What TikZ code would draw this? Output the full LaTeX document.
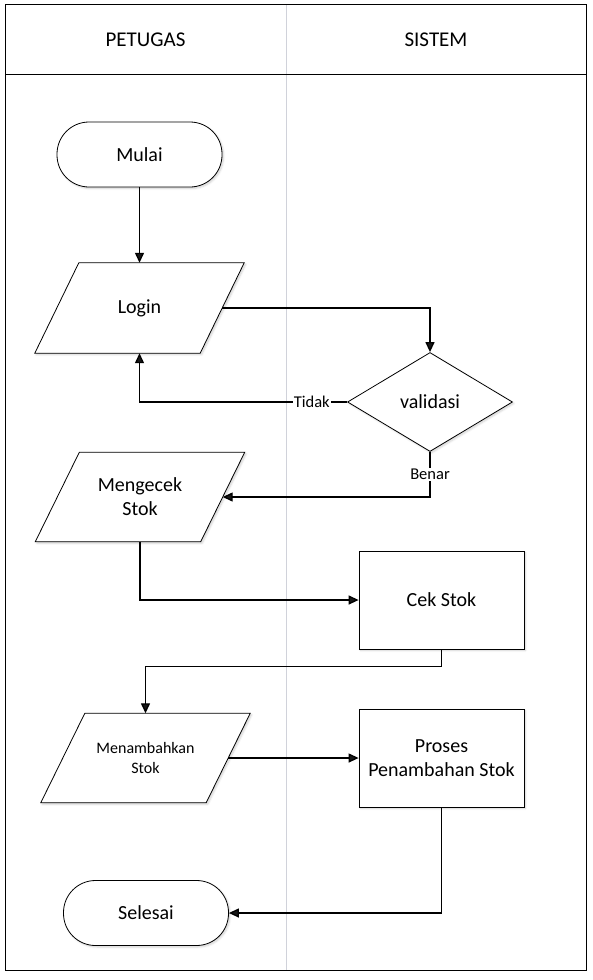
\documentclass[tikz,border=0pt]{standalone}
\usepackage{fontspec}
\setmainfont{Carlito}
\usepackage{xcolor}
\usepackage{tikz}
\usetikzlibrary{
    positioning,
    arrows.meta,
    calc,
    shapes.geometric,
    shadows.blur
}

\definecolor{garislajur}{RGB}{208,210,218}

\tikzset{
    bayang/.style={blur shadow={shadow xshift=1.5pt, shadow yshift=-1.5pt, shadow blur steps=5, shadow opacity=18}},
    panah/.style={line width=1.3pt, -{Triangle[length=10pt,width=9pt]}},
    terminal/.style={draw, line width=0.8pt, fill=white, bayang, rounded corners=32pt, minimum width=165pt, minimum height=65pt, font=\fontsize{20}{23}\selectfont},
    proses/.style={draw, line width=0.8pt, fill=white, bayang, minimum width=165pt, minimum height=98pt, align=center, font=\fontsize{20}{24}\selectfont},
    masukan/.style={minimum width=165pt, minimum height=90pt},
    teks/.style={align=center, font=\fontsize{20}{24}\selectfont},
    keputusan/.style={draw, line width=0.8pt, fill=white, bayang, diamond, aspect=1.67, inner sep=0pt, minimum width=165pt, minimum height=99pt, font=\fontsize{20}{23}\selectfont},
    ket/.style={fill=white, inner sep=1pt, font=\fontsize{16.5}{18}\selectfont}
}

% jajar genjang di sekeliling node
\newcommand{\jajar}[2]{
    \draw[line width=0.8pt, fill=white, bayang] ([xshift=#2]#1.north west) -- ([xshift=#2]#1.north east)
        -- ([xshift=-#2]#1.south east) -- ([xshift=-#2]#1.south west) -- cycle;
}

\begin{document}
\begin{tikzpicture}[x=1pt, y=-1pt]
    \useasboundingbox (0,0) rectangle (592,980);
    % kolom
    \draw[garislajur, line width=1pt] (286,4) -- (286,970);
    \draw[line width=1pt] (5,4) rectangle (586,970);
    \draw[line width=1pt] (5,74) -- (586,74);
    \node[font=\fontsize{21}{24}\selectfont] (petugas) at (145.5,40) {PETUGAS};
    \node[font=\fontsize{21}{24}\selectfont] (sistem) at (436,40) {SISTEM};

    \node[terminal] (mulai) at (139.5,154.5) {Mulai};
    \node[masukan] (login) at (139.5,308) {};
    \jajar{login}{22pt}
    \node[teks] (login-teks) at (login) {Login};
    \node[keputusan] (validasi) at (430,402) {validasi};
    \node[masukan, minimum height=89pt] (mengecek) at (140,497) {};
    \jajar{mengecek}{22pt}
    \node[teks] (mengecek-teks) at (mengecek) {Mengecek\\Stok};
    \node[proses] (cekstok) at (441.5,600) {Cek Stok};
    \node[masukan, minimum height=89pt] (menambah) at (145.5,758) {};
    \jajar{menambah}{22pt}
    \node[teks, font=\fontsize{16}{20}\selectfont] (menambah-teks) at (menambah) {Menambahkan\\Stok};
    \node[proses] (proses) at (441.5,758) {Proses\\Penambahan Stok};
    \node[terminal] (selesai) at (146,913) {Selesai};

    \draw[panah] (mulai) -- (login);
    \draw[panah] (login.east) -| (validasi.north);
    \draw[panah] (validasi.west) -| node[ket, pos=0.085] {Tidak} (login.south);
    \draw[panah] (validasi.south) |- node[ket, pos=0.25] {Benar} (mengecek.east);
    \draw[panah] (mengecek.south) |- (cekstok.west);
    \draw[panah] (cekstok.south) -- ++(0,17) -| (menambah.north);
    \draw[panah] (menambah.east) -- (proses.west);
    \draw[panah] (proses.south) |- (selesai.east);
\end{tikzpicture}
\end{document}
